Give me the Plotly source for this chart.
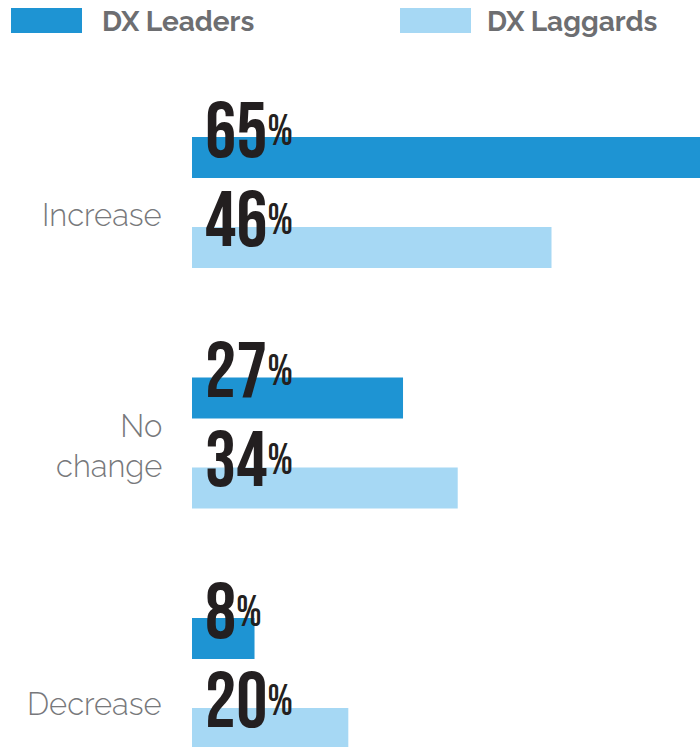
import plotly.graph_objects as go

# Survey answers, share of respondents (%)
categories = ["Increase", "No change", "Decrease"]
category_labels = ["Increase", "No<br>change", "Decrease"]
leaders = [65, 27, 8]
laggards = [46, 34, 20]
series_names = ["DX Leaders", "DX Laggards"]
series_colors = ["#1e94d3", "#a6d8f4"]

NUM_FONT = "Bebas Neue, League Gothic, Oswald, sans-serif"
LABEL_FONT = "Raleway, Lato, sans-serif"

fig = go.Figure()
for name, vals, col in zip(series_names, [leaders, laggards], series_colors):
    fig.add_trace(go.Bar(
        y=categories, x=vals, orientation="h", name=name,
        marker=dict(color=col, line=dict(width=0)),
        showlegend=False, hoverinfo="skip",
    ))

# value labels sitting on the left end of each bar
pct_style = "font-size:43px;baseline-shift:12px"
for vals, shift in [(leaders, 21), (laggards, -68)]:
    for cat, v in zip(categories, vals):
        fig.add_annotation(
            x=0, y=cat, xref="x", yref="y",
            text=f"{v}<span style='{pct_style}'>%</span>",
            showarrow=False, xanchor="left", yanchor="bottom",
            xshift=11, yshift=shift,
            font=dict(family=NUM_FONT, size=78, color="#231f20"),
        )

# category names to the left of each bar pair
label_nudge = [-12, -3, -20]
for cat, lab, dy in zip(categories, category_labels, label_nudge):
    fig.add_annotation(
        x=0, y=cat, xref="paper", yref="y",
        text=lab, showarrow=False, xanchor="right", yanchor="middle",
        align="right", xshift=-28, yshift=dy,
        font=dict(family=LABEL_FONT, size=31, color="#77787b", weight=300),
    )

# legend row along the top
legend_x = [(11, 82, 100), (400, 471, 485)]
for (x0, x1, tx), name, col in zip(legend_x, series_names, series_colors):
    fig.add_shape(type="rect", xref="paper", yref="paper",
                  x0=(x0 - 192) / 508, x1=(x1 - 192) / 508,
                  y0=1 - 33 / 747, y1=1 - 8 / 747,
                  fillcolor=col, line=dict(width=0), layer="above")
    fig.add_annotation(x=(tx - 192) / 508, y=1 - 21.5 / 747, xref="paper", yref="paper",
                       text=name, showarrow=False,
                       xanchor="left", yanchor="middle",
                       font=dict(family=LABEL_FONT, size=28, color="#6d6e71", weight=700))

fig.update_layout(
    width=700, height=747,
    margin=dict(l=192, r=0, t=0, b=0),
    paper_bgcolor="white", plot_bgcolor="white",
    barmode="group", bargap=0.253, bargroupgap=0.544,
    xaxis=dict(range=[0, 65], visible=False, showgrid=False, zeroline=False),
    yaxis=dict(range=[2.264, -0.842], visible=False, showgrid=False, zeroline=False),
    showlegend=False,
)

fig.write_html("out.html")
